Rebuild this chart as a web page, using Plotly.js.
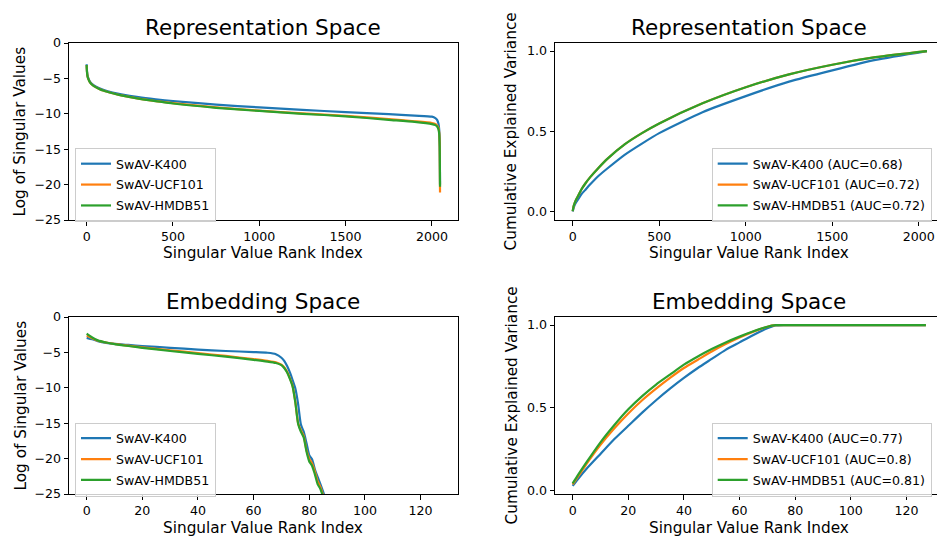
<!DOCTYPE html>
<html>
<head>
<meta charset="utf-8">
<script src="https://cdn.plot.ly/plotly-3.0.1.min.js"></script>
<style>html,body{margin:0;padding:0;background:#fff;}#chart{width:937px;height:540px;}</style>
</head>
<body>
<div id="chart"></div>
<script>
// ---------------- data ----------------
const seriesNames = ["SwAV-K400", "SwAV-UCF101", "SwAV-HMDB51"];
const colors = ["#1f77b4", "#ff7f0e", "#2ca02c"];

// Representation space: log of singular values (rank index 0..2047)
const repIdx = [0, 2, 5, 10, 20, 40, 70, 100, 150, 200, 300, 400, 500, 750, 1000, 1250, 1500, 1750, 1900, 2000, 2020, 2030, 2038, 2042, 2045, 2047];
const repLogK400 = [-3.0, -4.0, -4.6, -5.0, -5.5, -5.95, -6.35, -6.65, -7.0, -7.25, -7.65, -7.95, -8.2, -8.7, -9.1, -9.45, -9.75, -10.05, -10.25, -10.4, -10.6, -10.85, -11.4, -12.2, -14.0, -20.0];
const repLogUCF101 = [-3.1, -4.1, -4.7, -5.1, -5.6, -6.05, -6.45, -6.75, -7.1, -7.4, -7.85, -8.2, -8.5, -9.1, -9.55, -9.95, -10.3, -10.75, -11.05, -11.3, -11.45, -11.65, -12.0, -12.6, -14.5, -21.1];
const repLogHMDB51 = [-3.1, -4.1, -4.7, -5.1, -5.6, -6.05, -6.45, -6.75, -7.1, -7.4, -7.85, -8.2, -8.55, -9.15, -9.6, -10.0, -10.35, -10.85, -11.15, -11.45, -11.6, -11.8, -12.2, -12.8, -14.6, -20.3];

// Representation space: cumulative explained variance
const repCumIdx = [0, 5, 10, 20, 35, 50, 75, 100, 150, 200, 300, 400, 500, 750, 1000, 1250, 1500, 1750, 2047];
const repCumK400 = [0.003, 0.025, 0.04, 0.06, 0.085, 0.11, 0.14, 0.17, 0.225, 0.27, 0.355, 0.425, 0.49, 0.62, 0.72, 0.81, 0.88, 0.945, 1.0];
const repCumUCF101 = [0.005, 0.035, 0.052, 0.078, 0.108, 0.14, 0.18, 0.215, 0.275, 0.33, 0.42, 0.49, 0.55, 0.675, 0.775, 0.855, 0.915, 0.962, 1.0];
const repCumHMDB51 = [0.005, 0.035, 0.052, 0.078, 0.108, 0.14, 0.18, 0.215, 0.275, 0.33, 0.42, 0.49, 0.55, 0.675, 0.775, 0.855, 0.915, 0.962, 1.0];
const repAUC = ["0.68", "0.72", "0.72"];

// Embedding space: log of singular values (rank index 0..127)
const embIdx = [0, 2, 4, 7, 10, 15, 20, 30, 40, 50, 60, 65, 68, 70, 71, 72, 73, 74, 75, 76, 77, 78, 79, 80, 81, 82, 83, 84, 85, 86];
const embLogK400 = [-2.95, -3.15, -3.4, -3.65, -3.8, -3.95, -4.1, -4.35, -4.6, -4.8, -4.95, -5.05, -5.25, -5.75, -6.2, -6.9, -7.8, -8.9, -10.1, -12.3, -15.2, -16.2, -17.8, -19.5, -20.1, -21.5, -22.6, -23.6, -24.7, -26.0];
const embLogUCF101 = [-2.6, -3.0, -3.35, -3.6, -3.8, -4.05, -4.3, -4.7, -5.1, -5.5, -5.95, -6.2, -6.4, -6.75, -7.1, -7.7, -8.6, -9.7, -12.0, -15.0, -16.0, -16.8, -18.8, -20.0, -20.7, -21.8, -23.2, -24.0, -25.2, -26.5];
const embLogHMDB51 = [-2.35, -2.9, -3.3, -3.6, -3.82, -4.1, -4.35, -4.8, -5.2, -5.6, -6.05, -6.3, -6.5, -6.8, -7.2, -7.8, -8.7, -9.8, -12.1, -15.1, -16.2, -17.0, -19.0, -20.4, -21.0, -22.2, -23.6, -24.3, -25.4, -26.5];

// Embedding space: cumulative explained variance
const embCumIdx = [0, 2, 5, 10, 15, 20, 25, 30, 35, 40, 45, 50, 55, 60, 65, 70, 73, 76, 80, 127];
const embCumK400 = [0.026, 0.07, 0.13, 0.22, 0.31, 0.39, 0.47, 0.545, 0.615, 0.68, 0.74, 0.795, 0.85, 0.895, 0.94, 0.98, 0.997, 1.0, 1.0, 1.0];
const embCumUCF101 = [0.036, 0.085, 0.16, 0.275, 0.375, 0.465, 0.545, 0.615, 0.68, 0.74, 0.79, 0.84, 0.885, 0.925, 0.96, 0.99, 0.999, 1.0, 1.0, 1.0];
const embCumHMDB51 = [0.042, 0.095, 0.17, 0.29, 0.395, 0.49, 0.57, 0.64, 0.70, 0.76, 0.81, 0.855, 0.895, 0.93, 0.962, 0.99, 0.999, 1.0, 1.0, 1.0];
const embAUC = ["0.77", "0.8", "0.81"];

// ---------------- figure ----------------
const W = 937, H = 540;
const FONT = "DejaVu Sans, sans-serif";
const px = v => v / W;
const py = v => 1 - v / H;

const panels = [
  {xa: "x",  ya: "y",  leg: "legend",  x: repIdx,    ys: [repLogK400, repLogUCF101, repLogHMDB51], auc: null},
  {xa: "x2", ya: "y2", leg: "legend2", x: repCumIdx, ys: [repCumK400, repCumUCF101, repCumHMDB51], auc: repAUC},
  {xa: "x3", ya: "y3", leg: "legend3", x: embIdx,    ys: [embLogK400, embLogUCF101, embLogHMDB51], auc: null},
  {xa: "x4", ya: "y4", leg: "legend4", x: embCumIdx, ys: [embCumK400, embCumUCF101, embCumHMDB51], auc: embAUC}
];

const traces = [];
panels.forEach((p, pi) => {
  p.ys.forEach((yv, si) => {
    traces.push({
      type: "scatter", mode: "lines",
      x: p.x, y: yv,
      xaxis: p.xa, yaxis: p.ya,
      name: p.auc ? `${seriesNames[si]} (AUC=${p.auc[si]})` : seriesNames[si],
      legend: p.leg,
      legendgroup: "g" + pi + "_" + si,
      line: {color: colors[si], width: 2.2, shape: "spline", smoothing: 0.6},
      hoverinfo: "skip"
    });
  });
});

const axisBase = {
  showgrid: false, zeroline: false, showline: true, linecolor: "#000", linewidth: 1,
  mirror: true, ticks: "outside", ticklen: 4.5, tickwidth: 1, tickcolor: "#000",
  tickfont: {family: FONT, size: 12.6, color: "#000"}, fixedrange: true
};
const axisRight = Object.assign({}, axisBase, {mirror: false});

const L = [69, 457.7], R = [555, 937];
const T = [43, 220], B = [317, 494];

const legendBase = {
  bgcolor: "rgba(255,255,255,0.8)", bordercolor: "#cccccc", borderwidth: 1,
  font: {family: FONT, size: 12.6, color: "#000"}, xanchor: "left", yanchor: "top",
  tracegroupgap: 1.5, itemclick: false, itemdoubleclick: false
};

const layout = {
  width: W, height: H,
  margin: {l: 0, r: 0, t: 0, b: 0},
  paper_bgcolor: "#fff", plot_bgcolor: "#fff",
  showlegend: true,
  xaxis:  Object.assign({}, axisBase, {domain: [px(L[0]), px(L[1])], anchor: "y",  range: [-102.35, 2149.35], tickvals: [0, 500, 1000, 1500, 2000]}),
  yaxis:  Object.assign({}, axisBase, {domain: [py(T[1]), py(T[0])], anchor: "x",  range: [-25, 0], tickvals: [0, -5, -10, -15, -20, -25]}),
  xaxis2: Object.assign({}, axisBase, {domain: [px(R[0]), 1], anchor: "y2", range: [-102.35, 2105], tickvals: [0, 500, 1000, 1500, 2000]}),
  yaxis2: Object.assign({}, axisRight, {domain: [py(T[1]), py(T[0])], anchor: "x2", range: [-0.05, 1.05], tickvals: [0, 0.5, 1], tickformat: ".1f"}),
  xaxis3: Object.assign({}, axisBase, {domain: [px(L[0]), px(L[1])], anchor: "y3", range: [-6.35, 133.35], tickvals: [0, 20, 40, 60, 80, 100, 120]}),
  yaxis3: Object.assign({}, axisBase, {domain: [py(B[1]), py(B[0])], anchor: "x3", range: [-25, 0], tickvals: [0, -5, -10, -15, -20, -25]}),
  xaxis4: Object.assign({}, axisBase, {domain: [px(R[0]), 1], anchor: "y4", range: [-6.35, 131], tickvals: [0, 20, 40, 60, 80, 100, 120]}),
  yaxis4: Object.assign({}, axisRight, {domain: [py(B[1]), py(B[0])], anchor: "x4", range: [-0.0227, 1.0487], tickvals: [0, 0.5, 1], tickformat: ".1f"}),
  legend:  Object.assign({}, legendBase, {x: px(75),    y: py(148)}),
  legend2: Object.assign({}, legendBase, {x: px(711.7), y: py(148)}),
  legend3: Object.assign({}, legendBase, {x: px(75),    y: py(422.5)}),
  legend4: Object.assign({}, legendBase, {x: px(711.7), y: py(422.5)}),
  annotations: []
};

const titleFont = {family: FONT, size: 21.5, color: "#000"};
const labelFont = {family: FONT, size: 15.3, color: "#000"};
function ann(text, x, y, font, angle) {
  layout.annotations.push({text: text, xref: "paper", yref: "paper", x: px(x), y: py(y),
    xanchor: "center", yanchor: "middle", showarrow: false, font: font, textangle: angle || 0});
}
const cL = (L[0] + L[1]) / 2, cR = R[0] + (L[1] - L[0]) / 2;
ann("Representation Space", cL, 27, titleFont);
ann("Representation Space", cR, 27, titleFont);
ann("Embedding Space", cL, 301, titleFont);
ann("Embedding Space", cR, 301, titleFont);
ann("Singular Value Rank Index", cL, 253, labelFont);
ann("Singular Value Rank Index", cR, 253, labelFont);
ann("Singular Value Rank Index", cL, 528, labelFont);
ann("Singular Value Rank Index", cR, 528, labelFont);
ann("Log of Singular Values", 20, (T[0] + T[1]) / 2, labelFont, -90);
ann("Cumulative Explained Variance", 511, (T[0] + T[1]) / 2, labelFont, -90);
ann("Log of Singular Values", 20, (B[0] + B[1]) / 2, labelFont, -90);
ann("Cumulative Explained Variance", 511, (B[0] + B[1]) / 2, labelFont, -90);

Plotly.newPlot("chart", traces, layout, {staticPlot: true, displayModeBar: false});
</script>
</body>
</html>
